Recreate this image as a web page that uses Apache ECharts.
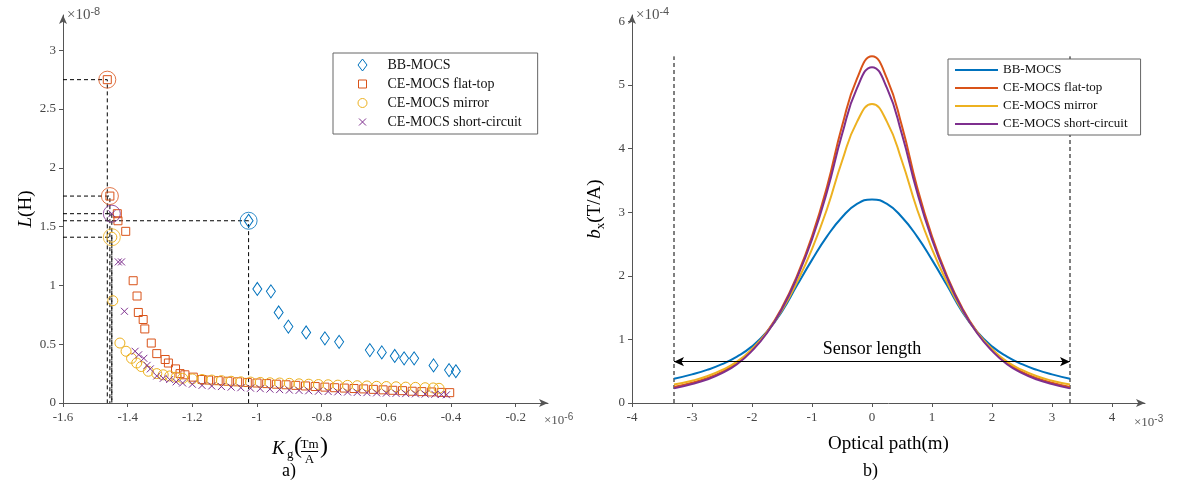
<!DOCTYPE html>
<html>
<head>
<meta charset="utf-8">
<title>MOCS comparison</title>
<script src="https://cdn.jsdelivr.net/npm/echarts@6/dist/echarts.min.js"></script>
<style>
  html, body { margin: 0; padding: 0; background: #fff; }
  #main { width: 1177px; height: 488px; }
</style>
</head>
<body>
<div id="main"></div>
<script>
// ---- a) L vs Kg, x in 1e-6 Tm/A, y in 1e-8 H ----
const bbMocs = [[-1.026,1.55],[-0.999,0.97],[-0.957,0.95],[-0.933,0.77],[-0.903,0.65],[-0.848,0.60],
  [-0.79,0.55],[-0.746,0.52],[-0.651,0.45],[-0.614,0.43],[-0.574,0.40],[-0.545,0.38],[-0.514,0.38],
  [-0.454,0.32],[-0.406,0.28],[-0.385,0.27]];

const flatTop = [[-1.463,2.75],[-1.455,1.76],[-1.432,1.61],[-1.43,1.55],[-1.406,1.46],[-1.383,1.04],
  [-1.371,0.91],[-1.367,0.77],[-1.352,0.71],[-1.347,0.63],[-1.327,0.51],[-1.31,0.42],[-1.284,0.37],
  [-1.274,0.34],[-1.252,0.29],[-1.238,0.25],[-1.223,0.24],[-1.197,0.22],[-1.17,0.2],[-1.15,0.195],
  [-1.12,0.19],[-1.09,0.185],[-1.06,0.18],[-1.03,0.175],[-1.0,0.17],[-0.97,0.165],[-0.94,0.16],
  [-0.91,0.155],[-0.88,0.15],[-0.85,0.145],[-0.82,0.14],[-0.79,0.135],[-0.76,0.13],[-0.73,0.127],
  [-0.7,0.123],[-0.67,0.12],[-0.64,0.116],[-0.61,0.112],[-0.58,0.108],[-0.55,0.105],[-0.52,0.1],
  [-0.49,0.097],[-0.46,0.094],[-0.43,0.09],[-0.404,0.088]];

const mirror = [[-1.449,1.41],[-1.446,0.87],[-1.424,0.51],[-1.405,0.44],[-1.388,0.38],[-1.372,0.34],
  [-1.358,0.31],[-1.336,0.27],[-1.31,0.25],[-1.29,0.24],[-1.27,0.23],[-1.25,0.22],[-1.23,0.21],
  [-1.2,0.205],[-1.17,0.2],[-1.14,0.195],[-1.11,0.19],[-1.08,0.185],[-1.05,0.18],[-1.02,0.178],
  [-0.99,0.175],[-0.96,0.172],[-0.93,0.17],[-0.9,0.167],[-0.87,0.163],[-0.84,0.16],[-0.81,0.157],
  [-0.78,0.155],[-0.75,0.152],[-0.72,0.15],[-0.69,0.147],[-0.66,0.145],[-0.63,0.142],[-0.6,0.14],
  [-0.57,0.138],[-0.54,0.135],[-0.51,0.133],[-0.48,0.13],[-0.455,0.128],[-0.437,0.125]];

const shortCircuit = [[-1.449,1.61],[-1.429,1.2],[-1.419,1.2],[-1.41,0.78],[-1.377,0.44],[-1.366,0.41],
  [-1.35,0.38],[-1.34,0.32],[-1.33,0.29],[-1.31,0.23],[-1.29,0.21],[-1.27,0.2],[-1.25,0.18],
  [-1.23,0.17],[-1.2,0.16],[-1.17,0.15],[-1.14,0.145],[-1.11,0.14],[-1.08,0.135],[-1.05,0.13],
  [-1.02,0.126],[-0.99,0.122],[-0.96,0.118],[-0.93,0.114],[-0.9,0.11],[-0.87,0.107],[-0.84,0.104],
  [-0.81,0.1],[-0.78,0.098],[-0.75,0.095],[-0.72,0.093],[-0.69,0.09],[-0.66,0.088],[-0.63,0.086],
  [-0.6,0.084],[-0.57,0.082],[-0.54,0.08],[-0.51,0.078],[-0.48,0.076],[-0.45,0.074],[-0.43,0.072],
  [-0.414,0.07]];

// circled points with dashed guides: [x, y, series index]
const markedPoints = [[-1.463,2.75,1],[-1.455,1.76,1],[-1.449,1.61,3],[-1.026,1.55,0],[-1.449,1.41,2]];

const leftXTicks = [-1.6,-1.4,-1.2,-1,-0.8,-0.6,-0.4,-0.2];
const leftYTicks = [0,0.5,1,1.5,2,2.5,3];

// ---- b) bx along optical path, x in 1e-3 m, y in 1e-4 T/A ----
const pathX = [-3.3,-3,-2.75,-2.5,-2.25,-2,-1.75,-1.5,-1.25,-1,-0.75,-0.5,-0.25,0,
  0.25,0.5,0.75,1,1.25,1.5,1.75,2,2.25,2.5,2.75,3,3.3];
const bbCurve = [0.38,0.45,0.52,0.61,0.73,0.89,1.12,1.44,1.85,2.25,2.62,2.92,3.13,3.2,
  3.13,2.92,2.62,2.25,1.85,1.44,1.12,0.89,0.73,0.61,0.52,0.45,0.38];
const flatTopCurve = [0.25,0.32,0.39,0.49,0.63,0.84,1.12,1.5,2.0,2.62,3.4,4.35,5.1,5.45,
  5.1,4.35,3.4,2.62,2.0,1.5,1.12,0.84,0.63,0.49,0.39,0.32,0.25];
const mirrorCurve = [0.29,0.35,0.42,0.52,0.65,0.85,1.11,1.46,1.9,2.42,3.05,3.8,4.42,4.7,
  4.42,3.8,3.05,2.42,1.9,1.46,1.11,0.85,0.65,0.52,0.42,0.35,0.29];
const shortCircuitCurve = [0.23,0.3,0.37,0.47,0.61,0.82,1.1,1.48,1.97,2.57,3.32,4.22,4.95,5.28,
  4.95,4.22,3.32,2.57,1.97,1.48,1.1,0.82,0.61,0.47,0.37,0.3,0.23];

const sensorEnds = [-3.3, 3.3];
const sensorTop = 5.45;
const sensorArrowY = 0.65;

const rightXTicks = [-4,-3,-2,-1,0,1,2,3,4];
const rightYTicks = [0,1,2,3,4,5,6];

const names = ['BB-MOCS', 'CE-MOCS flat-top', 'CE-MOCS mirror', 'CE-MOCS short-circuit'];
const colors = ['#0072BD', '#D95319', '#EDB120', '#7E2F8E'];
const SERIF = '"Liberation Serif", "DejaVu Serif", serif';

const chart = echarts.init(document.getElementById('main'), null, { renderer: 'canvas' });

function axisCommon(ticks, grid, isX) {
  return {
    type: 'value',
    gridIndex: grid,
    axisLine: { show: true, onZero: false, lineStyle: { color: '#555', width: 1 },
      symbol: ['none', 'arrow'], symbolSize: [6, 9] },
    axisTick: { show: true, inside: false, length: 4, lineStyle: { color: '#555' }, customValues: ticks },
    axisLabel: { color: '#444', fontFamily: SERIF, fontSize: 13, margin: isX ? 8 : 7,
      customValues: ticks, formatter: v => String(+(+v).toFixed(2)) },
    splitLine: { show: false }
  };
}

// scatter marker styles
const scatterSymbols = ['diamond', 'rect', 'circle', 'path://M0,0L10,10M0,10L10,0'];
const scatterSizes = [[9, 13], 8, 10, 7];
const scatterSets = [bbMocs, flatTop, mirror, shortCircuit];

const legendIconsLeft = [
  'path://M0,0M12,12M6,0L10.5,6L6,12L1.5,6Z',
  'path://M0,0M12,12M2,2H10V10H2Z',
  'path://M0,0M12,12M10.5,6A4.5,4.5,0,1,1,1.5,6A4.5,4.5,0,1,1,10.5,6Z',
  'path://M0,0M12,12M2.5,2.5L9.5,9.5M2.5,9.5L9.5,2.5'
];

const series = [];

// dashed guides from the axes to the circled points
markedPoints.forEach(p => {
  series.push({
    type: 'line', xAxisIndex: 0, yAxisIndex: 0, silent: true, symbol: 'none',
    lineStyle: { color: '#000', width: 1, type: [4, 3] },
    data: [[-1.6, p[1]], [p[0], p[1]], [p[0], 0]], z: 1
  });
});

scatterSets.forEach((set, i) => {
  series.push({
    name: names[i], type: 'scatter', xAxisIndex: 0, yAxisIndex: 0,
    symbol: scatterSymbols[i], symbolSize: scatterSizes[i],
    itemStyle: { color: 'none', borderColor: colors[i], borderWidth: 1, opacity: 1 },
    data: set, z: 3
  });
});

series.push({
  type: 'scatter', xAxisIndex: 0, yAxisIndex: 0, symbol: 'circle', symbolSize: 17, silent: true,
  data: markedPoints.map(p => ({ value: [p[0], p[1]],
    itemStyle: { color: 'none', borderColor: colors[p[2]], borderWidth: 1 } })),
  z: 4
});

// b) curves
const curves = [bbCurve, flatTopCurve, mirrorCurve, shortCircuitCurve];
curves.forEach((c, i) => {
  series.push({
    name: names[i], type: 'line', xAxisIndex: 1, yAxisIndex: 1, smooth: true, showSymbol: false,
    symbol: 'none', lineStyle: { color: colors[i], width: 2 }, itemStyle: { color: colors[i] },
    data: pathX.map((x, k) => [x, c[k]]), z: 3
  });
});

// sensor edges and length arrow
sensorEnds.forEach((x, i) => {
  const s = {
    type: 'line', xAxisIndex: 1, yAxisIndex: 1, silent: true, symbol: 'none',
    lineStyle: { color: '#000', width: 1, type: [4, 3] },
    data: [[x, 0], [x, sensorTop]], z: 2
  };
  if (i === 0) {
    s.markLine = {
      silent: true, symbol: ['arrow', 'arrow'], symbolSize: [7, 10],
      lineStyle: { color: '#000', type: 'solid', width: 1 },
      label: { show: true, position: 'middle', formatter: 'Sensor length', color: '#000',
        fontFamily: SERIF, fontSize: 18, distance: 3 },
      data: [[{ coord: [sensorEnds[0], sensorArrowY] }, { coord: [sensorEnds[1], sensorArrowY] }]]
    };
  }
  series.push(s);
});

const textBase = { fontFamily: SERIF, fill: '#000' };

const option = {
  animation: false,
  backgroundColor: '#fff',
  grid: [
    { left: 63, top: 15, width: 485, height: 388 },
    { left: 632, top: 15, width: 513, height: 388 }
  ],
  xAxis: [
    Object.assign(axisCommon(leftXTicks, 0, true), { min: -1.6, max: -0.1, interval: 0.2 }),
    Object.assign(axisCommon(rightXTicks, 1, true), { min: -4, max: 4.55, interval: 1,
      name: 'Optical path(m)', nameLocation: 'middle', nameGap: 32,
      nameTextStyle: { fontFamily: SERIF, fontSize: 19, color: '#000' } })
  ],
  yAxis: [
    Object.assign(axisCommon(leftYTicks, 0, false), { min: 0, max: 3.3, interval: 0.5,
      name: '{i|L}(H)', nameLocation: 'middle', nameRotate: 90, nameGap: 27,
      nameTextStyle: { fontFamily: SERIF, fontSize: 19, color: '#000',
        rich: { i: { fontFamily: SERIF, fontSize: 19, fontStyle: 'italic', color: '#000' } } } }),
    Object.assign(axisCommon(rightYTicks, 1, false), { min: 0, max: 6.1, interval: 1,
      name: '{i|b}{s|x}(T/A)', nameLocation: 'middle', nameRotate: 90, nameGap: 25,
      nameTextStyle: { fontFamily: SERIF, fontSize: 19, color: '#000', lineHeight: 24,
        rich: {
          i: { fontFamily: SERIF, fontSize: 19, fontStyle: 'italic', color: '#000', lineHeight: 24 },
          s: { fontFamily: SERIF, fontSize: 13, color: '#000', verticalAlign: 'bottom', lineHeight: 24 }
        } } })
  ],
  legend: [
    {
      left: 333, top: 53, orient: 'vertical', selectedMode: false,
      itemWidth: 40, itemHeight: 12, itemGap: 5, padding: [5, 16, 5, 23],
      borderColor: '#666', borderWidth: 1, backgroundColor: '#fff',
      textStyle: { fontFamily: SERIF, fontSize: 14, color: '#111' },
      data: names.map((n, i) => ({ name: n, icon: legendIconsLeft[i],
        itemStyle: { color: '#fff', borderColor: colors[i], borderWidth: 1 } }))
    },
    {
      left: 948, top: 59, orient: 'vertical', selectedMode: false,
      itemWidth: 43, itemHeight: 14, itemGap: 4, padding: [4, 13, 4, 7],
      borderColor: '#666', borderWidth: 1, backgroundColor: '#fff', z: 10,
      textStyle: { fontFamily: SERIF, fontSize: 13, color: '#111' },
      data: names.map((n, i) => ({ name: n, icon: 'path://M0,0M43,14M0,6H43V8H0Z',
        itemStyle: { color: colors[i], borderWidth: 0 } }))
    }
  ],
  graphic: [
    // axis exponents
    { type: 'text', left: 67, top: 6, style: { text: '×10{s|-8}', fontFamily: SERIF, fontSize: 15,
        fill: '#555', rich: { s: { fontSize: 11, fill: '#555', verticalAlign: 'top', padding: [0, 0, 8, 0] } } } },
    { type: 'text', left: 636, top: 6, style: { text: '×10{s|-4}', fontFamily: SERIF, fontSize: 15,
        fill: '#555', rich: { s: { fontSize: 11, fill: '#555', verticalAlign: 'top', padding: [0, 0, 8, 0] } } } },
    { type: 'text', left: 544, top: 412, style: { text: '×10{s|-6}', fontFamily: SERIF, fontSize: 13,
        fill: '#555', rich: { s: { fontSize: 10, fill: '#555', verticalAlign: 'top', padding: [0, 0, 7, 0] } } } },
    { type: 'text', left: 1134, top: 414, style: { text: '×10{s|-3}', fontFamily: SERIF, fontSize: 13,
        fill: '#555', rich: { s: { fontSize: 10, fill: '#555', verticalAlign: 'top', padding: [0, 0, 7, 0] } } } },
    // K_g (Tm / A)
    { type: 'group', left: 272, top: 435, children: [
      { type: 'text', x: 0, y: 0, style: Object.assign({ text: 'K', fontSize: 19, fontStyle: 'italic' }, textBase) },
      { type: 'text', x: 15, y: 9, style: Object.assign({ text: 'g', fontSize: 13 }, textBase) },
      { type: 'text', x: 22, y: -4, style: Object.assign({ text: '(', fontSize: 24 }, textBase) },
      { type: 'text', x: 37.5, y: -1, style: Object.assign({ text: 'Tm', fontSize: 13, align: 'center' }, textBase) },
      { type: 'line', shape: { x1: 29, y1: 12.5, x2: 46, y2: 12.5 }, style: { stroke: '#000', lineWidth: 1 } },
      { type: 'text', x: 37.5, y: 14, style: Object.assign({ text: 'A', fontSize: 13, align: 'center' }, textBase) },
      { type: 'text', x: 48, y: -4, style: Object.assign({ text: ')', fontSize: 24 }, textBase) }
    ] },
    { type: 'text', left: 282, top: 462, style: Object.assign({ text: 'a)', fontSize: 18 }, textBase) },
    { type: 'text', left: 863, top: 462, style: Object.assign({ text: 'b)', fontSize: 18 }, textBase) }
  ],
  series: series
};

chart.setOption(option);
</script>
</body>
</html>
